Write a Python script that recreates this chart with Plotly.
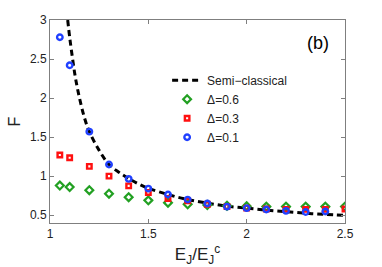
import plotly.graph_objects as go

# Semi-classical curve
semi_x = [1.09, 1.10, 1.115, 1.13, 1.15, 1.175, 1.2, 1.25, 1.3, 1.35, 1.4, 1.45, 1.5,
          1.6, 1.7, 1.8, 1.9, 2.0, 2.1, 2.2, 2.3, 2.4, 2.5]
semi_y = [3.0, 2.78, 2.5, 2.25, 2.0, 1.75, 1.57, 1.33, 1.15, 1.05, 0.97, 0.9, 0.845,
          0.765, 0.70, 0.655, 0.615, 0.59, 0.565, 0.545, 0.525, 0.51, 0.497]

# Delta = 0.6 (green diamonds)
d06_x = [1.05, 1.1, 1.2, 1.3, 1.4, 1.5, 1.6, 1.7, 1.8, 1.9, 2.0, 2.1, 2.2, 2.3, 2.4, 2.5]
d06_y = [0.88, 0.86, 0.82, 0.775, 0.73, 0.69, 0.66, 0.64, 0.63, 0.62, 0.615, 0.61,
         0.61, 0.61, 0.61, 0.61]

# Delta = 0.3 (red squares)
d03_x = [1.05, 1.1, 1.2, 1.3, 1.4, 1.5, 1.6, 1.7, 1.8, 1.9, 2.0, 2.1, 2.2, 2.3, 2.4, 2.5]
d03_y = [1.27, 1.235, 1.125, 1.0, 0.876, 0.79, 0.714, 0.683, 0.64, 0.61, 0.59, 0.58,
         0.575, 0.575, 0.575, 0.58]

# Delta = 0.1 (blue circles)
d01_x = [1.05, 1.1, 1.2, 1.3, 1.4, 1.5, 1.6, 1.7, 1.8, 1.9, 2.0, 2.1, 2.2, 2.3, 2.4]
d01_y = [2.78, 2.42, 1.57, 1.15, 0.965, 0.84, 0.765, 0.70, 0.65, 0.61, 0.59, 0.573,
         0.555, 0.54, 0.547]

x_ticks = [1, 1.5, 2, 2.5]
y_ticks = [0.5, 1, 1.5, 2, 2.5, 3]

FONT = "Liberation Sans, Arial, Helvetica, sans-serif"

fig = go.Figure()
fig.add_trace(go.Scatter(x=semi_x, y=semi_y, mode="lines", name="Semi\u2212classical",
                         line=dict(color="black", width=3, dash="6px,4px", shape="spline")))
fig.add_trace(go.Scatter(x=d06_x, y=d06_y, mode="markers", name="\u0394=0.6",
                         marker=dict(symbol="diamond-open", size=6, color="#22a022",
                                     line=dict(width=2.2, color="#22a022"))))
fig.add_trace(go.Scatter(x=d03_x, y=d03_y, mode="markers", name="\u0394=0.3",
                         marker=dict(symbol="square-open", size=4.5, color="#ff1010",
                                     line=dict(width=2.4, color="#ff1010"))))
fig.add_trace(go.Scatter(x=d01_x, y=d01_y, mode="markers", name="\u0394=0.1",
                         marker=dict(symbol="circle-open", size=5.5, color="#2040ff",
                                     line=dict(width=2.4, color="#2040ff"))))

axis_common = dict(showline=True, linecolor="#7f7f7f", linewidth=1, mirror="ticks",
                   ticks="inside", ticklen=4, tickcolor="#7f7f7f", showgrid=False,
                   zeroline=False, automargin=False,
                   tickfont=dict(size=12, color="#222", family=FONT))

fig.update_xaxes(range=[1, 2.5], tickvals=x_ticks, ticktext=[str(v) for v in x_ticks],
                 title=dict(text="E<sub>J</sub>/E<sub>J</sub><sup>c</sup>",
                            font=dict(size=17, color="#222", family=FONT), standoff=10),
                 **axis_common)
fig.update_yaxes(range=[0.4, 3], tickvals=y_ticks, ticktext=[str(v) for v in y_ticks],
                 title=dict(text="F", font=dict(size=16, color="#222", family=FONT),
                            standoff=5),
                 **axis_common)

fig.add_annotation(x=0.91, y=0.887, xref="paper", yref="paper", text="(b)",
                   xanchor="center", yanchor="middle",
                   showarrow=False, font=dict(size=18, color="black", family=FONT))

fig.update_layout(
    width=382, height=267,
    margin=dict(l=50, r=37, t=20, b=44),
    paper_bgcolor="white", plot_bgcolor="white",
    font=dict(family=FONT, color="#222"),
    legend=dict(x=0.397, y=0.775, xanchor="left", yanchor="top",
                bgcolor="rgba(0,0,0,0)", font=dict(size=12, family=FONT, color="#222"),
                itemwidth=30, tracegroupgap=0),
    showlegend=True,
)

fig.write_html("out.html", config={"displayModeBar": False},
               post_script="document.body.style.margin='0px';")
